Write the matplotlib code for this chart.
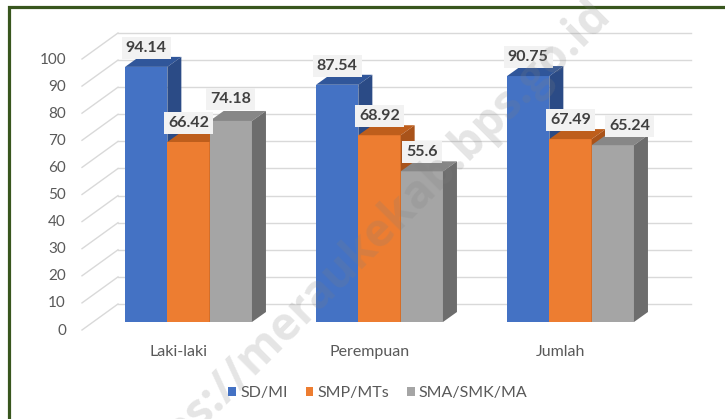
import matplotlib
matplotlib.use('Agg')
import matplotlib.pyplot as plt
import matplotlib.transforms as mtransforms
from matplotlib.patches import Polygon, Rectangle
from matplotlib.lines import Line2D

# ---- data ----
categories = ['Laki-laki', 'Perempuan', 'Jumlah']
series_names = ['SD/MI', 'SMP/MTs', 'SMA/SMK/MA']
sd_mi = [94.14, 87.54, 90.75]
smp_mts = [66.42, 68.92, 67.49]
sma_smk_ma = [74.18, 55.6, 65.24]
yticks = [0, 10, 20, 30, 40, 50, 60, 70, 80, 90, 100]
watermark = 'https://meraukekab.bps.go.id'

series = [sd_mi, smp_mts, sma_smk_ma]
front_cols = ['#4472C4', '#ED7D31', '#A5A5A5']
top_cols = ['#30569A', '#BE5E1C', '#878787']
side_cols = ['#2B4B86', '#A9531A', '#6D6D6D']

FONT = 'Lato'
plt.rcParams['font.family'] = [FONT, 'DejaVu Sans']

W, H, DPI = 725, 419, 100
fig = plt.figure(figsize=(W / DPI, H / DPI), dpi=DPI)
fig.patch.set_facecolor('white')
ax = fig.add_axes([93 / W, 97 / H, 573 / W, 271 / H])
ax.set_xlim(-0.5, 2.5)
ax.set_ylim(0, 100)
ax.axis('off')

ident = mtransforms.IdentityTransform()
to_px = ax.transData.transform
bar_w = 0.2215
depth = (14, 10)     # bar depth (pixels)
wall = (25, 18)      # back wall offset from bar front plane
floor = (-11, -8)    # front edge of floor
grid_col = '#D9D9D9'
text_col = '#595959'

# gridlines on back wall + floor diagonals + tick labels
for v in yticks:
    (x0, y0), (x1, y1) = to_px([(-0.5, v), (2.5, v)])
    ax.add_line(Line2D([x0 + wall[0], x1 + wall[0]], [y0 + wall[1], y1 + wall[1]],
                       transform=ident, color=grid_col, lw=1.0, clip_on=False, zorder=0))
    ax.add_line(Line2D([x0 + floor[0], x0 + wall[0]], [y0 + floor[1], y0 + wall[1]],
                       transform=ident, color=grid_col, lw=1.0, clip_on=False, zorder=0))
    ax.annotate(str(v), xy=(-0.5, v), xytext=(floor[0] - 16, floor[1] + 1),
                textcoords='offset pixels', ha='right', va='center_baseline',
                fontsize=11, color=text_col, annotation_clip=False)

# bars
labels = []
for i in range(len(categories)):
    group = []
    for j, vals in enumerate(series):
        v = vals[i]
        xc = i + (j - 1) * bar_w
        z = 2 + 3 * j
        ax.bar(xc, v, width=bar_w, color=front_cols[j], linewidth=0, zorder=z)
        (xl, yb), (xr, yt) = to_px([(xc - bar_w / 2, 0), (xc + bar_w / 2, v)])
        dx, dy = depth
        top = [(xl, yt), (xr, yt), (xr + dx, yt + dy), (xl + dx, yt + dy)]
        side = [(xr, yb), (xr + dx, yb + dy), (xr + dx, yt + dy), (xr, yt)]
        ax.add_patch(Polygon(top, closed=True, transform=ident, facecolor=top_cols[j],
                             edgecolor='none', clip_on=False, zorder=z + 1))
        ax.add_patch(Polygon(side, closed=True, transform=ident, facecolor=side_cols[j],
                             edgecolor='none', clip_on=False, zorder=z + 1))
        t = ax.annotate(f'{v:g}', xy=(xc, v), xytext=(0, 19), textcoords='offset pixels',
                        ha='center', va='center', fontsize=11.5, fontweight='bold',
                        color='#404040', zorder=20, annotation_clip=False,
                        bbox=dict(boxstyle='square,pad=0.25', fc='#F2F2F2', ec='none'))
        group.append(t)
    labels.append(group)
    # category label
    ax.annotate(categories[i], xy=(i, 0), xytext=(-10, -30), textcoords='offset pixels',
                ha='center', va='center', fontsize=11.5, color=text_col,
                annotation_clip=False)

# simple label collision avoidance (like Excel)
fig.canvas.draw()
r = fig.canvas.get_renderer()
for group in labels:
    for k in range(1, len(group)):
        prev = group[k - 1].get_bbox_patch().get_window_extent(r)
        cur = group[k].get_bbox_patch().get_window_extent(r)
        if cur.x0 < prev.x1 and cur.x1 > prev.x0 and cur.y0 < prev.y1 and cur.y1 > prev.y0:
            vo = min(cur.y1, prev.y1) - max(cur.y0, prev.y0)
            ox, oy = group[k].xyann
            if vo <= 6:
                group[k].xyann = (ox, oy + vo + 2)
            else:
                group[k].xyann = (ox + (prev.x1 - cur.x0) + 10, oy)
        fig.canvas.draw()

# legend
handles = [Rectangle((0, 0), 1, 1, facecolor=c, edgecolor='none') for c in front_cols]
leg = fig.legend(handles, series_names, loc='center', bbox_to_anchor=(378 / W, 1 - 393 / H),
                 ncol=3, frameon=False, fontsize=11.5, handlelength=0.5, handleheight=0.5,
                 handletextpad=0.25, columnspacing=1.1, borderaxespad=0, borderpad=0)
for txt in leg.get_texts():
    txt.set_color(text_col)

# green frame
fig.add_artist(Rectangle((8.5 / W, -0.2), 1.2, 1.2 - 6.5 / H, transform=fig.transFigure,
                         facecolor='none', edgecolor='#38561E', linewidth=2.3))

# watermark
fig.text(362 / W, 1 - 248 / H, watermark, rotation=45, fontsize=33, fontweight='bold',
         color='#7F7F7F', alpha=0.2, ha='center', va='center', family='Open Sans',
         rotation_mode='anchor', zorder=50)

fig.savefig('out.png', dpi=DPI)
